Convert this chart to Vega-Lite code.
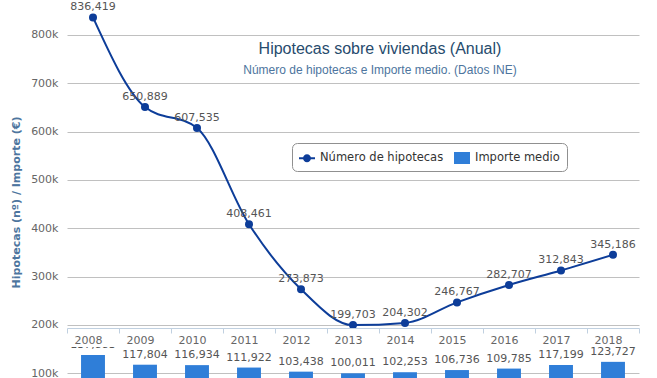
{
  "$schema": "https://vega.github.io/schema/vega-lite/v6.json",
  "width": 572,
  "height": 378,
  "autosize": {"type": "none"},
  "padding": {"left": 67, "top": 0, "right": 18, "bottom": 0},
  "background": "white",
  "config": {"view": {"stroke": null}, "font": "DejaVu Sans"},
  "title": {
    "text": "Hipotecas sobre viviendas (Anual)",
    "subtitle": "Número de hipotecas e Importe medio. (Datos INE)",
    "anchor": "middle",
    "frame": "group",
    "font": "Liberation Sans",
    "fontSize": 16,
    "fontWeight": "normal",
    "color": "#274b6d",
    "subtitleFont": "Liberation Sans",
    "subtitleFontSize": 12,
    "subtitleColor": "#4d759e",
    "subtitlePadding": 8,
    "dx": 27,
    "offset": -76
  },
  "data": {
    "values": [
      {"anio": "2008", "serie": "Número de hipotecas", "valor": 836419},
      {"anio": "2009", "serie": "Número de hipotecas", "valor": 650889},
      {"anio": "2010", "serie": "Número de hipotecas", "valor": 607535},
      {"anio": "2011", "serie": "Número de hipotecas", "valor": 408461},
      {"anio": "2012", "serie": "Número de hipotecas", "valor": 273873},
      {"anio": "2013", "serie": "Número de hipotecas", "valor": 199703},
      {"anio": "2014", "serie": "Número de hipotecas", "valor": 204302},
      {"anio": "2015", "serie": "Número de hipotecas", "valor": 246767},
      {"anio": "2016", "serie": "Número de hipotecas", "valor": 282707},
      {"anio": "2017", "serie": "Número de hipotecas", "valor": 312843},
      {"anio": "2018", "serie": "Número de hipotecas", "valor": 345186},
      {"anio": "2008", "serie": "Importe medio", "valor": 137883},
      {"anio": "2009", "serie": "Importe medio", "valor": 117804},
      {"anio": "2010", "serie": "Importe medio", "valor": 116934},
      {"anio": "2011", "serie": "Importe medio", "valor": 111922},
      {"anio": "2012", "serie": "Importe medio", "valor": 103438},
      {"anio": "2013", "serie": "Importe medio", "valor": 100011},
      {"anio": "2014", "serie": "Importe medio", "valor": 102253},
      {"anio": "2015", "serie": "Importe medio", "valor": 106736},
      {"anio": "2016", "serie": "Importe medio", "valor": 109785},
      {"anio": "2017", "serie": "Importe medio", "valor": 117199},
      {"anio": "2018", "serie": "Importe medio", "valor": 123727}
    ]
  },
  "encoding": {
    "x": {
      "field": "anio",
      "type": "ordinal",
      "scale": {"paddingInner": 0, "paddingOuter": 0},
      "axis": {
        "title": null,
        "orient": "bottom",
        "offset": -50,
        "domainColor": "#C0D0E0",
        "tickColor": "#C0D0E0",
        "tickSize": 5,
        "tickBand": "extent",
        "labelAngle": 0,
        "labelPadding": 1,
        "labelFont": "DejaVu Sans",
        "labelFontSize": 11,
        "labelColor": "#666666",
        "labelOffset": -5,
        "grid": false,
        "zindex": 1
      }
    }
  },
  "layer": [
    {
      "transform": [{"filter": "datum.serie === 'Importe medio'"}],
      "mark": {"type": "bar", "width": {"band": 0.46}},
      "encoding": {
        "y": {
          "field": "valor",
          "type": "quantitative",
          "scale": {"domain": [90300, 872400], "nice": false, "zero": false},
          "axis": {
            "values": [100000, 200000, 300000, 400000, 500000, 600000, 700000, 800000],
            "format": "~s",
            "grid": true,
            "gridColor": "#c0c0c0",
            "domain": false,
            "ticks": false,
            "labelPadding": 9,
            "labelFont": "DejaVu Sans",
            "labelFontSize": 11,
            "labelColor": "#666666",
            "title": "Hipotecas (nº) / Importe (€)",
            "titleFont": "DejaVu Sans",
            "titleFontSize": 11,
            "titleFontWeight": "bold",
            "titleColor": "#4d759e",
            "titleAngle": 270,
            "titleX": -51,
            "titleY": 202,
            "titleAlign": "center",
            "titleBaseline": "middle"
          }
        },
        "y2": {"datum": 90300},
        "color": {
          "field": "serie",
          "type": "nominal",
          "scale": {"domain": ["Número de hipotecas", "Importe medio"], "range": ["#0d3d99", "#2f7ed8"]},
          "legend": {
            "title": null,
            "orient": "none",
            "legendX": 225,
            "legendY": 143,
            "direction": "horizontal",
            "padding": 7,
            "strokeColor": "#909090",
            "cornerRadius": 5,
            "fillColor": "white",
            "labelFont": "DejaVu Sans",
            "labelFontSize": 11.5,
            "labelColor": "#333333",
            "labelOffset": 5,
            "columnPadding": 10,
            "symbolSize": 256,
            "symbolStrokeWidth": 0,
            "encode": {
              "symbols": {
                "update": {
                  "shape": {"signal": "datum.value === 'Importe medio' ? 'M-1,-0.75H1V0.75H-1Z' : 'M-1,-0.125H1V0.125H-1Z M0.5,0A0.5,0.5 0 1 1 -0.5,0A0.5,0.5 0 1 1 0.5,0Z'"},
                  "fill": {"signal": "datum.value === 'Importe medio' ? '#2f7ed8' : '#0d3d99'"},
                  "opacity": {"value": 1},
                  "strokeWidth": {"value": 0}
                }
              }
            }
          }
        }
      }
    },
    {
      "transform": [{"filter": "datum.serie === 'Importe medio'"}],
      "mark": {"type": "text", "dy": -7, "baseline": "alphabetic", "font": "DejaVu Sans", "fontSize": 11, "color": "#555555"},
      "encoding": {
        "y": {"field": "valor", "type": "quantitative"},
        "text": {"field": "valor", "type": "quantitative", "format": ","}
      }
    },
    {
      "transform": [{"filter": "datum.serie === 'Importe medio' && datum.anio === '2008'"}],
      "mark": {"type": "rect", "color": "white", "width": {"band": 1}},
      "encoding": {
        "y": {"datum": 196000},
        "y2": {"datum": 154500}
      }
    },
    {
      "transform": [{"filter": "datum.serie === 'Número de hipotecas'"}],
      "mark": {"type": "line", "interpolate": "monotone", "strokeWidth": 2, "point": {"filled": true, "size": 64}},
      "encoding": {
        "y": {"field": "valor", "type": "quantitative"},
        "color": {"field": "serie", "type": "nominal"}
      }
    },
    {
      "transform": [{"filter": "datum.serie === 'Número de hipotecas'"}],
      "mark": {"type": "text", "dy": -7, "baseline": "alphabetic", "font": "DejaVu Sans", "fontSize": 11, "color": "#555555"},
      "encoding": {
        "y": {"field": "valor", "type": "quantitative"},
        "text": {"field": "valor", "type": "quantitative", "format": ","}
      }
    }
  ]
}
